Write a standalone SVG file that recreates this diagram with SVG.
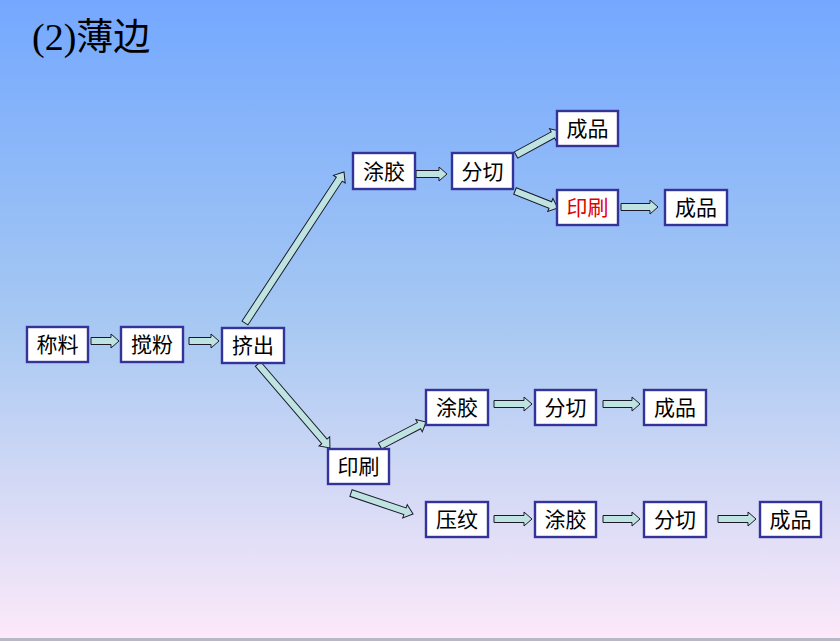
<svg xmlns="http://www.w3.org/2000/svg" width="840" height="641" viewBox="0 0 840 641">
<defs>
<linearGradient id="bg" x1="0" y1="0" x2="0" y2="1">
<stop offset="0" stop-color="#74a8ff"/>
<stop offset="0.5" stop-color="#a6c8f2"/>
<stop offset="1" stop-color="#fde9f9"/>
</linearGradient>
</defs>
<style>
.box{fill:#ffffff;stroke:#333399;stroke-width:2.4}
.t{font-family:"Noto Sans CJK SC","Noto Sans CJK JP",sans-serif;font-size:21px;fill:#000;text-anchor:middle;dominant-baseline:central}
.red{fill:#e00000}
.arr{fill:#bfe3e0;stroke:#1a1a2a;stroke-width:1}
.title{font-family:"Liberation Serif","Times New Roman",serif;font-size:38px;fill:#000}
</style>
<rect x="0" y="0" width="840" height="641" fill="url(#bg)"/>
<rect x="0" y="638" width="840" height="3" fill="#b8b8c6"/>
<text class="title" x="32" y="50">(2)<tspan font-family="'Noto Sans CJK SC',sans-serif" font-size="37">薄边</tspan></text>

<g id="connectors">
<path class="arr" transform="translate(91,341)" d="M0,-3.5H20V-7L28,0L20,7V3.5H0Z"/>
<path class="arr" transform="translate(189,341)" d="M0,-3.5H22V-7L30,0L22,7V3.5H0Z"/>
<path class="arr" transform="translate(245,323) rotate(-56.75)" d="M0,-3.5H172V-7L180.6,0L172,7V3.5H0Z"/>
<path class="arr" transform="translate(258,364) rotate(49.4)" d="M0,-3.5H102V-7L110.6,0L102,7V3.5H0Z"/>
<path class="arr" transform="translate(416,174)" d="M0,-3.5H23V-7L31,0L23,7V3.5H0Z"/>
<path class="arr" transform="translate(516,155) rotate(-28.6)" d="M0,-3.5H42V-7L50,0L42,7V3.5H0Z"/>
<path class="arr" transform="translate(515,191) rotate(21.6)" d="M0,-3.5H38V-7L46,0L38,7V3.5H0Z"/>
<path class="arr" transform="translate(621,207)" d="M0,-3.5H29V-7L37,0L29,7V3.5H0Z"/>
<path class="arr" transform="translate(380,446) rotate(-27.5)" d="M0,-3.5H44V-7L52,0L44,7V3.5H0Z"/>
<path class="arr" transform="translate(351,493) rotate(18.7)" d="M0,-3.5H57V-7L65.5,0L57,7V3.5H0Z"/>
<path class="arr" transform="translate(494,404)" d="M0,-3.5H30V-7L38,0L30,7V3.5H0Z"/>
<path class="arr" transform="translate(603,404)" d="M0,-3.5H29V-7L37,0L29,7V3.5H0Z"/>
<path class="arr" transform="translate(494,519)" d="M0,-3.5H30V-7L38,0L30,7V3.5H0Z"/>
<path class="arr" transform="translate(603,519)" d="M0,-3.5H29V-7L37,0L29,7V3.5H0Z"/>
<path class="arr" transform="translate(718,519)" d="M0,-3.5H30V-7L38,0L30,7V3.5H0Z"/>
</g>

<g id="n-chengliao"><rect class="box" x="27" y="327" width="61" height="35"/><text class="t" x="57.5" y="343">称料</text></g>
<g id="n-jiaofen"><rect class="box" x="121" y="327" width="62" height="35"/><text class="t" x="152" y="343">搅粉</text></g>
<g id="n-jichu"><rect class="box" x="222" y="328" width="62" height="35"/><text class="t" x="253" y="344">挤出</text></g>

<g id="n-tujiao1"><rect class="box" x="353" y="153" width="62" height="36"/><text class="t" x="384" y="169.5">涂胶</text></g>
<g id="n-fenqie1"><rect class="box" x="452" y="153" width="61" height="36"/><text class="t" x="482.5" y="169.5">分切</text></g>
<g id="n-chengpin1"><rect class="box" x="557" y="111" width="61" height="35"/><text class="t" x="587.5" y="127">成品</text></g>
<g id="n-yinshua1"><rect class="box" x="557" y="190" width="61" height="35"/><text class="t red" x="587.5" y="206">印刷</text></g>
<g id="n-chengpin2"><rect class="box" x="665" y="190" width="62" height="35"/><text class="t" x="696" y="206">成品</text></g>

<g id="n-yinshua2"><rect class="box" x="328" y="449" width="61" height="35"/><text class="t" x="358.5" y="465">印刷</text></g>
<g id="n-tujiao2"><rect class="box" x="426" y="390" width="62" height="35"/><text class="t" x="457" y="406">涂胶</text></g>
<g id="n-fenqie2"><rect class="box" x="535" y="390" width="61" height="35"/><text class="t" x="565.5" y="406">分切</text></g>
<g id="n-chengpin3"><rect class="box" x="644" y="390" width="62" height="35"/><text class="t" x="675" y="406">成品</text></g>

<g id="n-yawen"><rect class="box" x="426" y="502" width="62" height="35"/><text class="t" x="457" y="518">压纹</text></g>
<g id="n-tujiao3"><rect class="box" x="535" y="502" width="61" height="35"/><text class="t" x="565.5" y="518">涂胶</text></g>
<g id="n-fenqie3"><rect class="box" x="644" y="502" width="62" height="35"/><text class="t" x="675" y="518">分切</text></g>
<g id="n-chengpin4"><rect class="box" x="760" y="502" width="61" height="35"/><text class="t" x="790.5" y="518">成品</text></g>
</svg>
